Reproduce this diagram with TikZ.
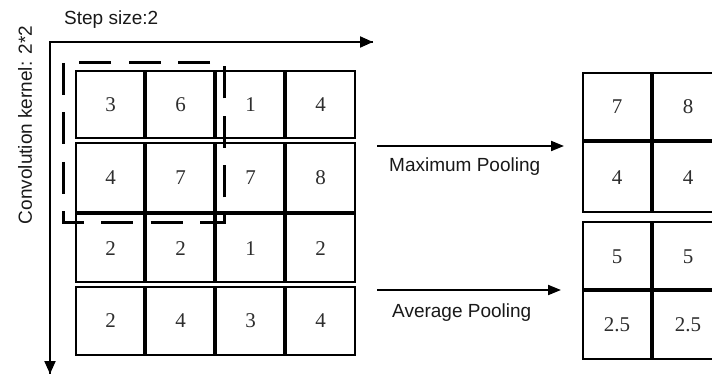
\documentclass[tikz,border=0pt]{standalone}
\usepackage{fontspec}
\setmainfont{Liberation Serif}
\newfontfamily\labelfont{Liberation Sans}
\usetikzlibrary{arrows.meta}
\tikzset{
  lbl/.style={font=\labelfont\fontsize{19}{22}\selectfont, text=black!90, inner sep=0pt},
  num/.style={font=\fontsize{21}{24}\selectfont, text=black!82, inner sep=0pt},
  thin/.style={line width=1.6pt},
  thick/.style={line width=4pt},
  axis/.style={line width=2pt, -{Triangle[length=13pt,width=11pt]}},
  poolarrow/.style={line width=2pt, -{Triangle[length=13pt,width=10pt]}},
  kernel/.style={line width=3pt, dash pattern=on 32pt off 17.5pt}
}
\begin{document}
\begin{tikzpicture}[x=1pt,y=-1pt]
\clip (0,0) rectangle (712,374);
\fill[white] (0,0) rectangle (712,374);

% axes
\coordinate (corner) at (50,42);
\coordinate (xend) at (373,42);
\coordinate (yend) at (50,374);
\draw[line width=2pt] (xend) -- (corner) -- (yend);
\draw[axis] (corner) -- (xend);
\draw[axis] (corner) -- (yend);

\node[lbl, anchor=west] (step) at (64,20) {Step size:2};
\node[lbl, rotate=90] (kern) at (25,125) {Convolution kernel: 2*2};

% main grid
\foreach \t/\b in {71/138, 143/282, 287/355} {
  \draw[thin] (76,\t) rectangle (355,\b);
  \foreach \x in {145,215,285} \draw[thick] (\x,\t) -- (\x,\b);
}
\draw[thick] (76,213) -- (355,213);

\foreach \v [count=\i] in {3,6,1,4} \node[num] (a\i) at ({110.5+70*(\i-1)},104.5) {\v};
\foreach \v [count=\i] in {4,7,7,8} \node[num] (b\i) at ({110.5+70*(\i-1)},178) {\v};
\foreach \v [count=\i] in {2,2,1,2} \node[num] (c\i) at ({110.5+70*(\i-1)},248.5) {\v};
\foreach \v [count=\i] in {2,4,3,4} \node[num] (d\i) at ({110.5+70*(\i-1)},321) {\v};

% kernel window
\coordinate (k1) at (63,63);
\coordinate (k2) at (63,223);
\coordinate (k3) at (224,223);
\coordinate (k4) at (224,63);
\draw[kernel] (k1) -- (k2) -- (k3) -- (k4) -- (k1);

% pooling arrows
\coordinate (m1) at (377,146);
\coordinate (m2) at (564,146);
\coordinate (p1) at (377,290);
\coordinate (p2) at (561,290);
\draw[poolarrow] (m1) -- (m2);
\draw[poolarrow] (p1) -- (p2);
\node[lbl, anchor=west] (maxl) at (389,167) {Maximum Pooling};
\node[lbl, anchor=west] (avgl) at (392,313) {Average Pooling};

% result grids
\draw[thin] (583,73) rectangle (724,212);
\draw[thick] (652,73) -- (652,212);
\draw[thick] (583,141) -- (724,141);
\draw[thin] (583,222) rectangle (724,359);
\draw[thick] (652,222) -- (652,359);
\draw[thick] (583,290) -- (724,290);

\node[num] (r1) at (617,107) {7};
\node[num] (r2) at (688,107) {8};
\node[num] (r3) at (617,178) {4};
\node[num] (r4) at (688,178) {4};
\node[num] (s1) at (617,257) {5};
\node[num] (s2) at (688,257) {5};
\node[num] (s3) at (617,325) {2.5};
\node[num] (s4) at (688,325) {2.5};
\end{tikzpicture}
\end{document}
